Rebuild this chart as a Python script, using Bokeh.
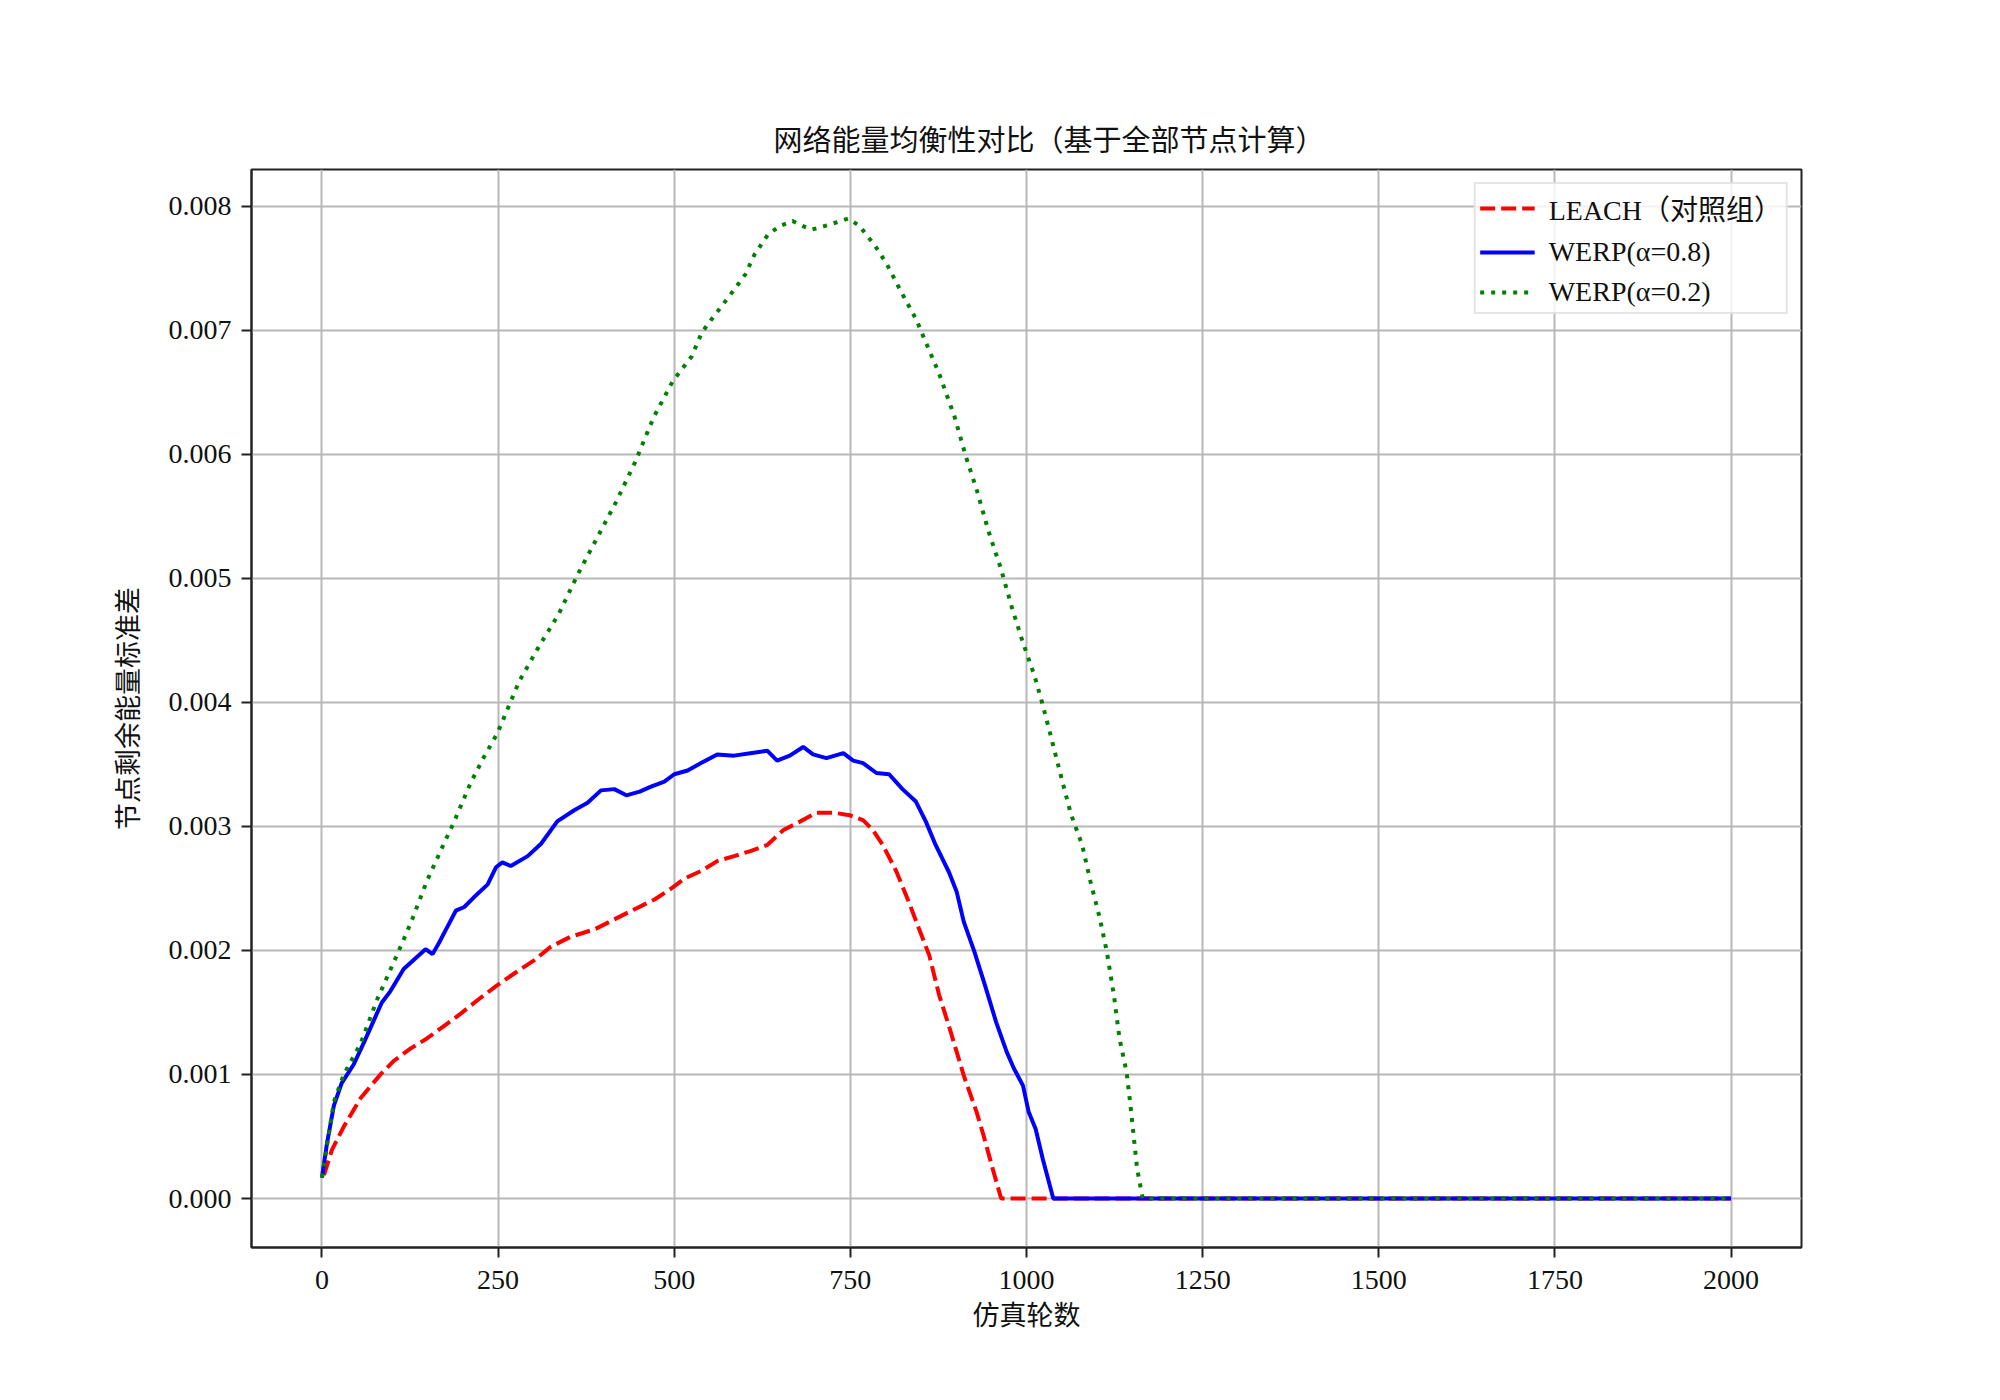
from bokeh.plotting import figure
from bokeh.models import FixedTicker, PrintfTickFormatter, Range1d
from bokeh.embed import file_html
from bokeh.resources import INLINE

# ---------------- data ----------------
title_text = "网络能量均衡性对比（基于全部节点计算）"
x_label = "仿真轮数"
y_label = "节点剩余能量标准差"
x_ticks = [0, 250, 500, 750, 1000, 1250, 1500, 1750, 2000]
y_ticks = [0.000, 0.001, 0.002, 0.003, 0.004, 0.005, 0.006, 0.007, 0.008]

leach_label = "LEACH（对照组）"
leach_rounds = [3, 14, 31, 55, 83, 102, 126, 149, 173, 197, 221, 249, 277, 301,
                325, 353, 387, 415, 443, 472, 496, 515, 538, 561, 585, 608, 632,
                655, 679, 702, 726, 749, 768, 782, 796, 815, 833, 847, 862, 876,
                891, 901, 911, 929, 939, 952, 964, 2000]
leach_std = [0.00019, 0.00039, 0.00058, 0.00081, 0.00100, 0.00111, 0.00121,
             0.00129, 0.00139, 0.00149, 0.00160, 0.00172, 0.00183, 0.00192,
             0.00203, 0.00211, 0.00217, 0.00225, 0.00233, 0.00241, 0.00250,
             0.00258, 0.00264, 0.00272, 0.00276, 0.00280, 0.00285, 0.00297,
             0.00304, 0.00311, 0.00311, 0.00309, 0.00305, 0.00297, 0.00285,
             0.00264, 0.00239, 0.00218, 0.00196, 0.00164, 0.00137, 0.00118,
             0.00099, 0.00070, 0.00051, 0.00024, 0.0, 0.0]

werp08_label = "WERP(α=0.8)"
werp08_rounds = [0, 7, 17, 28, 45, 59, 85, 97, 116, 147, 157, 166, 178, 190, 202,
                 216, 235, 247, 256, 268, 292, 311, 334, 358, 377, 396, 415, 432,
                 451, 467, 486, 500, 519, 538, 561, 585, 608, 632, 646, 664, 683,
                 697, 716, 740, 754, 768, 787, 805, 824, 843, 857, 871, 890, 901,
                 911, 926, 941, 957, 972, 982, 995, 1003, 1013, 1023, 1038, 2000]
werp08_std = [0.000167, 0.00044, 0.00075, 0.00093, 0.00108, 0.00125, 0.00158,
              0.00167, 0.00185, 0.00201, 0.00197, 0.00206, 0.00219, 0.00232,
              0.00235, 0.00243, 0.00253, 0.00267, 0.00271, 0.00268, 0.00276,
              0.00286, 0.00304, 0.00313, 0.00319, 0.00329, 0.00330, 0.00325,
              0.00328, 0.00332, 0.00336, 0.00342, 0.00345, 0.00351, 0.00358,
              0.00357, 0.00359, 0.00361, 0.00353, 0.00357, 0.00364, 0.00358,
              0.00355, 0.00359, 0.00353, 0.00351, 0.00343, 0.00342, 0.00330,
              0.00320, 0.00304, 0.00285, 0.00263, 0.00247, 0.00223, 0.00199,
              0.00172, 0.00142, 0.00118, 0.00105, 0.00091, 0.00070, 0.00056,
              0.00032, 0.0, 0.0]

werp02_label = "WERP(α=0.2)"
werp02_rounds = [0, 17, 31, 55, 78, 107, 126, 149, 173, 187, 211, 230, 249, 280,
                 309, 336, 363, 390, 417, 444, 471, 498, 525, 539, 552, 579, 601,
                 614, 633, 650, 668, 682, 695, 714, 731, 747, 763, 785, 801, 822,
                 844, 855, 876, 898, 914, 930, 946, 963, 979, 995, 1011, 1022,
                 1033, 1051, 1063, 1079, 1091, 1104, 1114, 1124, 1132, 1142, 1147,
                 1152, 1157, 1165, 2000]
werp02_std = [0.00017, 0.00078, 0.00100, 0.00125, 0.00160, 0.00197, 0.00222,
              0.00256, 0.00286, 0.00303, 0.00335, 0.00356, 0.00375, 0.00417,
              0.00446, 0.00471, 0.00503, 0.00532, 0.00561, 0.00593, 0.00630,
              0.00659, 0.00679, 0.00698, 0.00708, 0.00728, 0.00745, 0.00761,
              0.00777, 0.00784, 0.00788, 0.00784, 0.00781, 0.00784, 0.00787,
              0.00790, 0.00784, 0.00768, 0.00754, 0.00731, 0.00708, 0.00693,
              0.00665, 0.00630, 0.00598, 0.00570, 0.00538, 0.00509, 0.00477,
              0.00448, 0.00422, 0.00400, 0.00376, 0.00336, 0.00310, 0.00285,
              0.00255, 0.00226, 0.00199, 0.00164, 0.00129, 0.00102, 0.00078,
              0.00051, 0.00024, 0.0, 0.0]

# ---------------- figure ----------------
SERIF = "'Liberation Serif', 'Noto Sans CJK SC'"
CJK = "'Noto Sans CJK SC'"

p = figure(frame_width=1550, frame_height=1078,
           x_range=Range1d(-100, 2100), y_range=Range1d(-0.000395, 0.008295),
           output_backend="svg", toolbar_location=None,
           min_border_left=251, min_border_top=169,
           min_border_right=175, min_border_bottom=130,
           background_fill_color="white", border_fill_color="white")

p.title.text = title_text
p.title.align = "left"
p.title.offset = 522
p.title.text_font = CJK
p.title.text_font_size = "29px"
p.title.text_font_style = "normal"
p.title.text_color = "#111111"
p.title.standoff = 22

p.outline_line_color = "#222222"
p.outline_line_width = 2
p.outline_line_alpha = 1

p.grid.grid_line_color = "#b8b8b8"
p.grid.grid_line_width = 2

p.xaxis.ticker = FixedTicker(ticks=x_ticks)
p.yaxis.ticker = FixedTicker(ticks=y_ticks)
p.yaxis.formatter = PrintfTickFormatter(format="%.3f")
p.xaxis.axis_label = x_label
p.yaxis.axis_label = y_label

for ax in (p.xaxis[0], p.yaxis[0]):
    ax.major_label_text_font = "Liberation Serif"
    ax.major_label_text_font_size = "28px"
    ax.major_label_text_color = "#111111"
    ax.axis_label_text_font = CJK
    ax.axis_label_text_font_size = "27px"
    ax.axis_label_text_font_style = "normal"
    ax.axis_label_text_color = "#111111"
    ax.major_tick_out = 10
    ax.major_tick_in = 0
    ax.minor_tick_out = 0
    ax.minor_tick_in = 0
    ax.major_tick_line_width = 2
    ax.major_tick_line_color = "#222222"
    ax.axis_line_width = 2
    ax.axis_line_color = "#222222"

p.xaxis.major_label_standoff = 13
p.yaxis.major_label_standoff = 10
p.xaxis.axis_label_standoff = 2
p.yaxis.axis_label_standoff = 20

p.line(leach_rounds, leach_std, line_color="#ff0000", line_width=4,
       line_dash="15 6", legend_label=leach_label)
p.line(werp08_rounds, werp08_std, line_color="#0000ff", line_width=4,
       legend_label=werp08_label)
p.line(werp02_rounds, werp02_std, line_color="#008000", line_width=4,
       line_dash="4 7", legend_label=werp02_label)

lg = p.legend[0]
lg.location = "top_right"
lg.margin = 13
lg.padding = 4
lg.spacing = 8
lg.glyph_width = 55
lg.glyph_height = 32
lg.label_height = 32
lg.label_standoff = 14
lg.label_text_font = SERIF
lg.label_text_font_size = "28px"
lg.label_text_color = "#111111"
lg.border_line_color = "#cccccc"
lg.border_line_width = 2
lg.background_fill_color = "white"
lg.background_fill_alpha = 0.8

open("out.html", "w").write(file_html(p, INLINE))
